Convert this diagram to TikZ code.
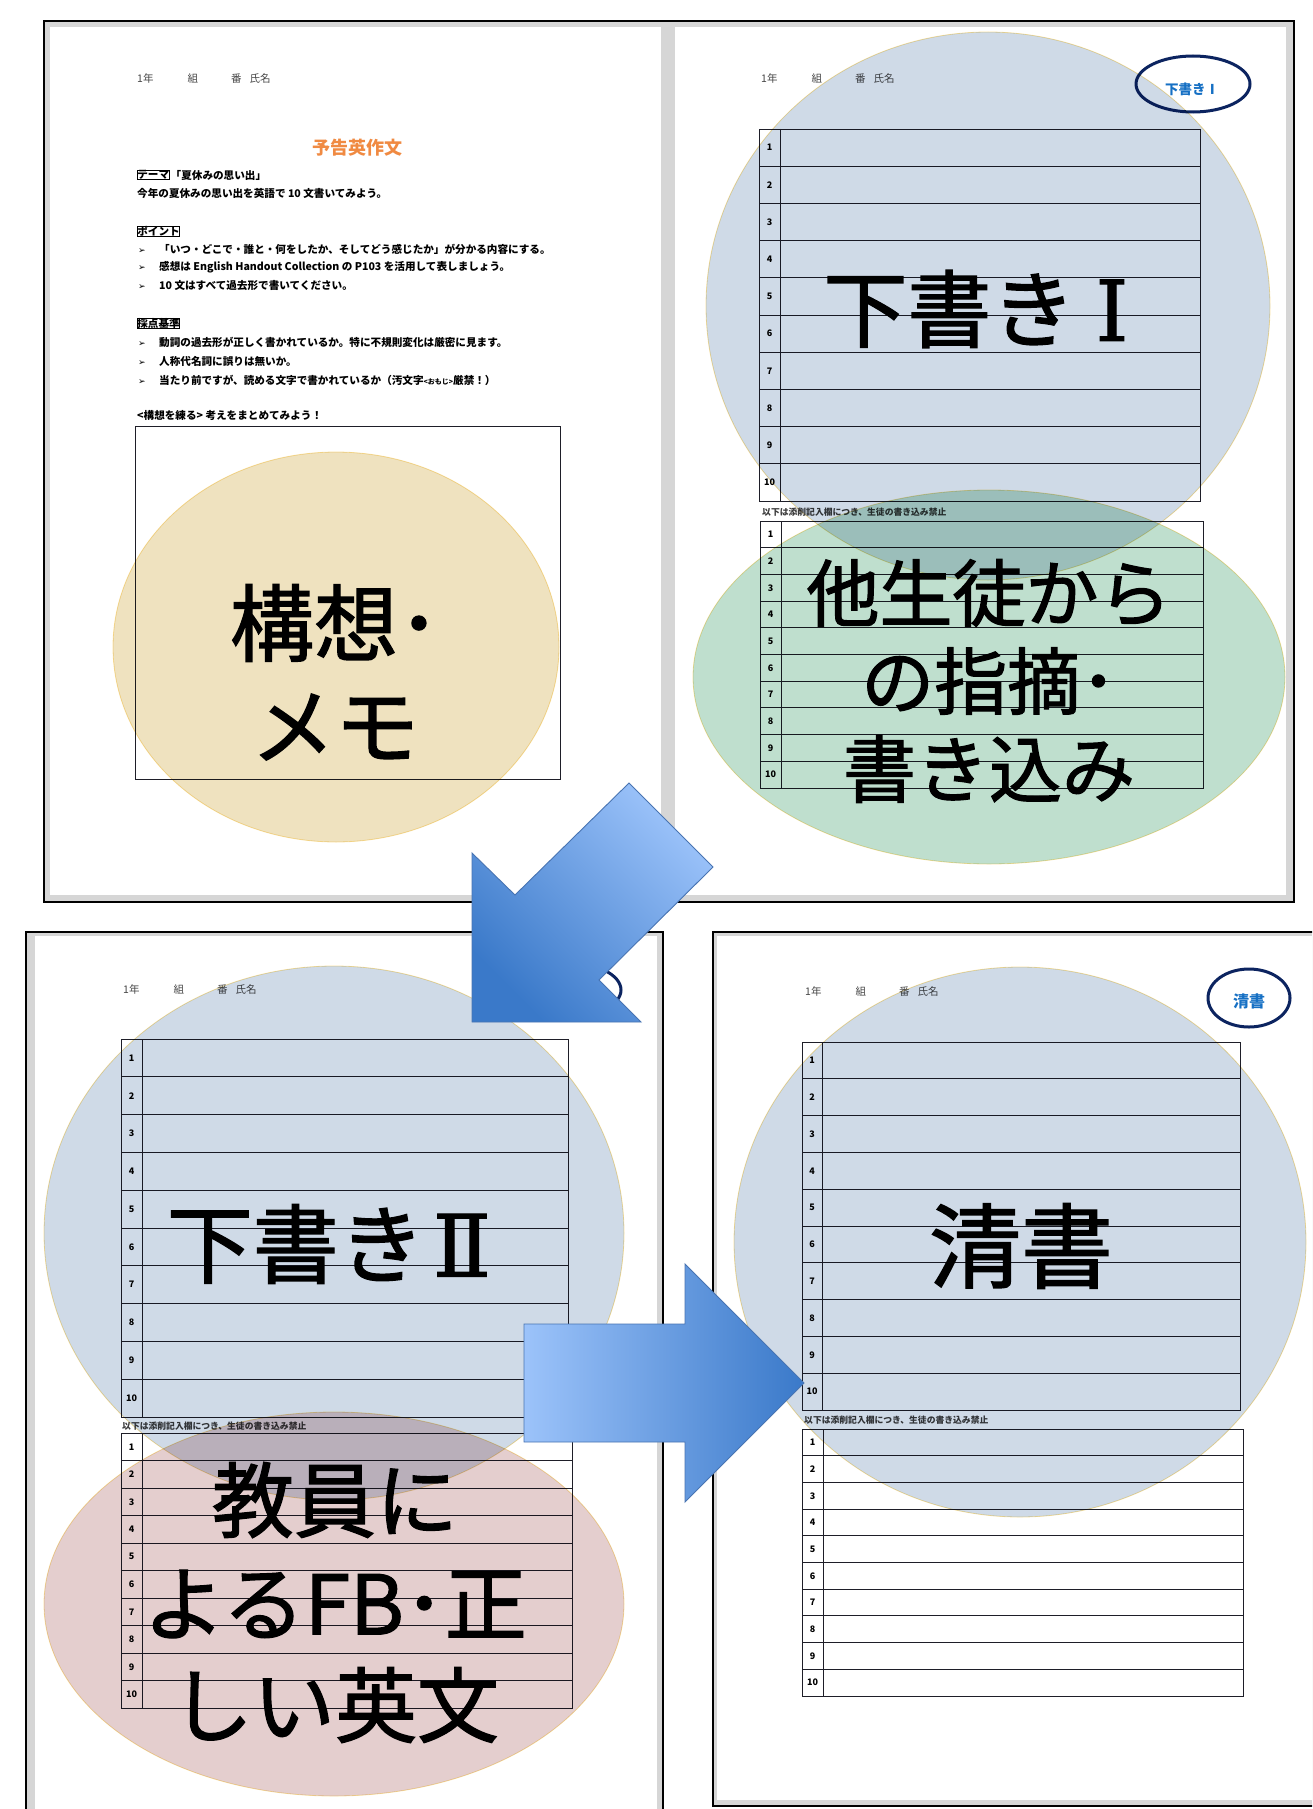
\documentclass[tikz,border=0pt]{standalone}
\usepackage{fontspec}
\newfontfamily\jp{Noto Sans CJK JP}
\newfontfamily\jpbig[FakeBold=1.6]{Noto Sans CJK JP}
\newfontfamily\djv{DejaVu Sans}
\newfontfamily\djvbig[FakeBold=1.2]{DejaVu Serif}
\definecolor{pagegray}{RGB}{214,214,214}
\definecolor{tblline}{RGB}{30,30,40}
\definecolor{namegray}{RGB}{70,70,70}
\definecolor{notegray}{RGB}{60,60,60}
\definecolor{navy}{RGB}{12,36,96}
\definecolor{labelblue}{RGB}{22,112,196}
\definecolor{titleorange}{RGB}{240,138,66}
\definecolor{yellowfill}{RGB}{236,219,175}
\definecolor{bluefill}{RGB}{196,209,226}
\definecolor{greenfill}{RGB}{176,216,194}
\definecolor{pinkfill}{RGB}{222,194,194}
\definecolor{bubbleedge}{RGB}{250,226,160}
\definecolor{arrowlight}{RGB}{156,195,250}
\definecolor{arrowdark}{RGB}{58,121,201}
\definecolor{arrowedge}{RGB}{72,116,178}
\newcommand{\blt}{\makebox[21pt][l]{\djv\fontsize{9}{9}\selectfont ➢}}
\newcommand{\drawsheettable}[6]{%
  \draw[tbl] (#2,#3) rectangle ({#4},{#3+10*#5});
  \draw[tbl] (#6,#3) -- ({#6},{#3+10*#5});
  \foreach \k in {1,...,9} {\draw[tbl] ({#2},{#3+\k*#5}) -- ({#4},{#3+\k*#5});}
  \foreach \k in {1,...,10} {\node[num] (#1n\k) at ({(#2+#6)/2},{#3+(\k-0.5)*#5}) {\k};}
}
\newcommand{\namerow}[3]{%
  \node[namefont] (#1) at (#2,#3) {1年\hspace{34pt}組\hspace{33pt}番\hspace{8pt}氏名};}
\tikzset{
  frame/.style={draw=black, line width=1.6pt, fill=pagegray},
  tbl/.style={draw=tblline, line width=0.9pt},
  num/.style={font=\jp\bfseries\fontsize{9}{9}\selectfont, inner sep=0pt},
  small/.style={font=\jp\bfseries\fontsize{10.6}{12}\selectfont, inner sep=0pt, anchor=west},
  namefont/.style={font=\jp\fontsize{10.5}{12}\selectfont, text=namegray, inner sep=0pt, anchor=west},
  note/.style={font=\jp\bfseries\fontsize{8.8}{10}\selectfont, text=notegray, inner sep=0pt, anchor=west},
  tagbox/.style={draw=black, line width=0.7pt, inner sep=1.2pt},
  labelring/.style={draw=navy, line width=3pt},
  labeltext/.style={font=\jp\bfseries\fontsize{13.5}{14}\selectfont, text=labelblue, inner sep=0pt},
  bubble/.style={blend mode=multiply, fill opacity=0.8, draw=bubbleedge, line width=0.8pt},
  bigtext/.style={inner sep=0pt, text=black},
  arrowshape/.style={draw=arrowedge, line width=0.9pt}
}
\begin{document}
\begin{tikzpicture}[x=1pt,y=-1pt]
\useasboundingbox (0,0) rectangle (1312,1809);
\clip (0,0) rectangle (1312,1809);
\fill[white] (0,0) rectangle (1312,1809);

% ---------- frames and pages ----------
\draw[frame] (44,21) rectangle (1294,902);
\fill[white] (50,27) rectangle (661,895);
\fill[white] (675,27) rectangle (1286,895);
\draw[frame] (26,932) rectangle (663,1840);
\fill[white] (35,936) rectangle (657,1840);
\draw[frame] (713,932) rectangle (1340,1806);
\fill[white] (717,936) rectangle (1340,1800);

% ---------- top-left sheet ----------
\namerow{nameTL}{137}{79}
\node[font=\jp\bfseries\fontsize{18}{18}\selectfont, text=titleorange] (title) at (357,148) {予告英作文};
\node[tagbox, small] (theme) at (137,175) {テーマ};
\node[small] (themeval) at ([xshift=1pt]theme.east) {「夏休みの思い出」};
\node[small] (intro) at (137,193) {今年の夏休みの思い出を英語で 10 文書いてみよう。};
\node[tagbox, small] (point) at (137,231) {ポイント};
\node[small] (p1) at (138,249) {\blt「いつ・どこで・誰と・何をしたか、そしてどう感じたか」が分かる内容にする。};
\node[small] (p2) at (138,267) {\blt 感想は English Handout Collection の P103 を活用して表しましょう。};
\node[small] (p3) at (138,286) {\blt 10 文はすべて過去形で書いてください。};
\node[tagbox, small] (crit) at (137,323) {採点基準};
\node[small] (c1) at (138,342) {\blt 動詞の過去形が正しく書かれているか。特に不規則変化は厳密に見ます。};
\node[small] (c2) at (138,361) {\blt 人称代名詞に誤りは無いか。};
\node[small] (c3) at (138,380) {\blt 当たり前ですが、読める文字で書かれているか（汚文字{\fontsize{7}{7}\selectfont <おもじ>}厳禁！）};
\node[small] (plan) at (137,415) {<構想を練る> 考えをまとめてみよう！};
\draw[line width=0.9pt, draw=tblline] (135,426) rectangle (560,779);

% ---------- top-right sheet ----------
\namerow{nameTR}{761}{79}
\draw[labelring] (1193,84) ellipse [x radius=57, y radius=28];
\node[labeltext] (labTR) at (1192,89) {下書きⅠ};
\drawsheettable{tA}{759}{129}{1200}{37.2}{780}
\node[note] (noteTR) at (762,512) {以下は添削記入欄につき、生徒の書き込み禁止};
\drawsheettable{tB}{760}{521}{1203}{26.7}{781}

% ---------- bottom-left sheet ----------
\namerow{nameBL}{123}{989}
\draw[labelring] (564,990) ellipse [x radius=57, y radius=28];
\drawsheettable{tC}{121}{1039}{568}{37.8}{142}
\node[note] (noteBL) at (122,1426) {以下は添削記入欄につき、生徒の書き込み禁止};
\drawsheettable{tD}{121}{1433}{572}{27.5}{142}

% ---------- bottom-right sheet ----------
\namerow{nameBR}{805}{991}
\draw[labelring] (1249,998) ellipse [x radius=41, y radius=29];
\node[labeltext, font=\jp\bfseries\fontsize{16}{16}\selectfont] (labBR) at (1249,1001) {清書};
\drawsheettable{tE}{802}{1042}{1240}{36.8}{822}
\node[note] (noteBR) at (804,1420) {以下は添削記入欄につき、生徒の書き込み禁止};
\drawsheettable{tF}{802}{1429}{1243}{26.7}{823}

% ---------- bubbles ----------
\path[bubble, fill=yellowfill] (336,647) ellipse [x radius=223, y radius=195];
\path[bubble, fill=bluefill] (988,306) ellipse [x radius=282, y radius=274];
\path[bubble, fill=greenfill] (989,677) ellipse [x radius=296, y radius=187];
\path[bubble, fill=bluefill] (334,1233) ellipse [x radius=290, y radius=267];
\path[bubble, fill=pinkfill] (334,1604) ellipse [x radius=290, y radius=192];
\path[bubble, fill=bluefill] (1020,1242) ellipse [x radius=286, y radius=275];

% ---------- big labels ----------
\begin{scope}[every node/.append style={bigtext}]
\node[font=\jpbig\fontsize{84}{84}\selectfont] (memo1) at (335,623) {構想･};
\node[font=\jpbig\fontsize{84}{84}\selectfont] (memo2) at (335,727) {メモ};
\node[font=\jpbig\fontsize{84}{84}\selectfont] (draft1) at (976,309) {下書き\hspace{20pt}{\djvbig Ⅰ}};
\node[font=\jpbig\fontsize{73}{73}\selectfont] (peer1) at (989,593) {他生徒から};
\node[font=\jpbig\fontsize{73}{73}\selectfont] (peer2) at (989,681) {の指摘･};
\node[font=\jpbig\fontsize{73}{73}\selectfont] (peer3) at (989,769) {書き込み};
\node[font=\jpbig\fontsize{86}{86}\selectfont] (draft2) at (329,1244) {下書き\hspace{8pt}{\djvbig Ⅱ}};
\node[font=\jpbig\fontsize{82}{82}\selectfont] (fb1) at (335,1500) {教員に};
\node[font=\jpbig\fontsize{82}{82}\selectfont] (fb2) at (335,1604) {よるFB･正};
\node[font=\jpbig\fontsize{82}{82}\selectfont] (fb3) at (335,1705) {しい英文};
\node[font=\jpbig\fontsize{92}{92}\selectfont] (clean) at (1021,1246) {清書};
\end{scope}

% ---------- arrows ----------
\shade[arrowshape, top color=arrowlight, bottom color=arrowdark, shading angle=-45]
  (629,783) -- (713,867) -- (599,980) -- (641,1022) -- (472,1022) -- (472,853) -- (515,895) -- cycle;
\shade[arrowshape, left color=arrowlight, right color=arrowdark]
  (524,1324) -- (685,1324) -- (685,1264) -- (804,1383) -- (685,1502) -- (685,1442) -- (524,1442) -- cycle;
\end{tikzpicture}
\end{document}
